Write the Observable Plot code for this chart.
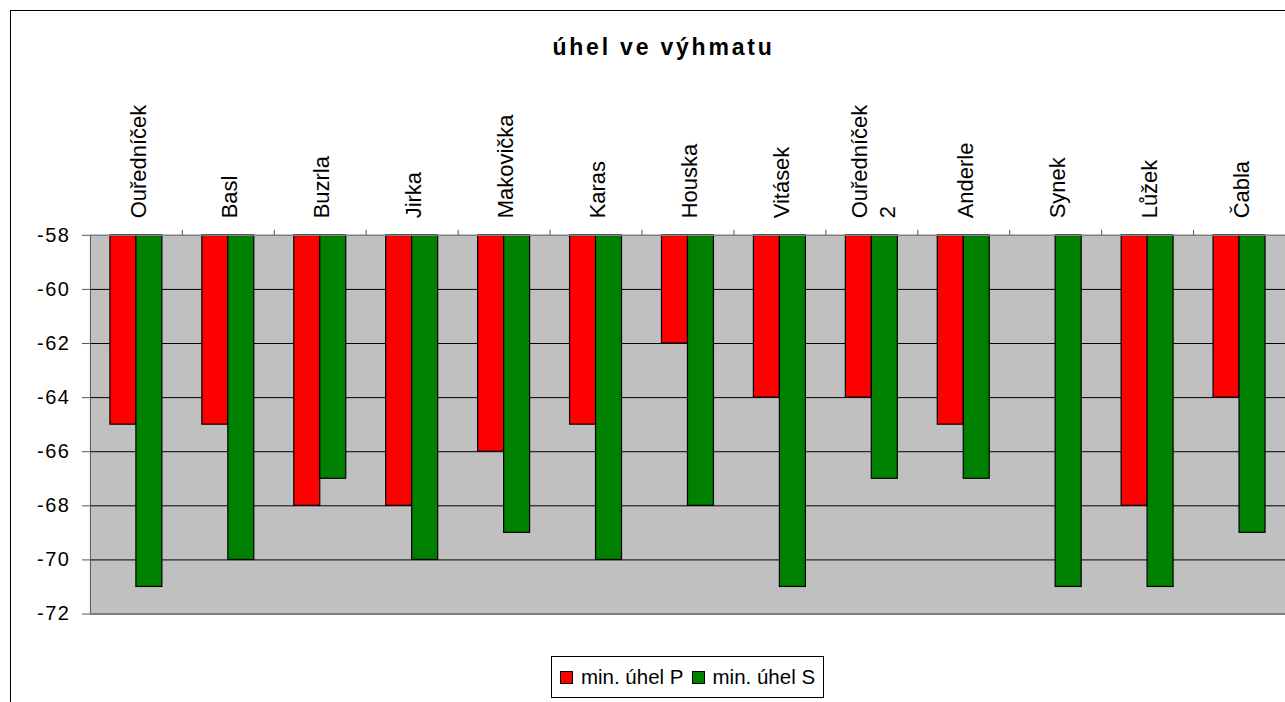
<!DOCTYPE html>
<html>
<head>
<meta charset="utf-8">
<script src="https://cdn.jsdelivr.net/npm/d3@7"></script>
<script src="https://cdn.jsdelivr.net/npm/@observablehq/plot@0.6"></script>
<style>
  html, body { margin: 0; padding: 0; background: #fff; }
  body { position: relative; width: 1285px; height: 702px; overflow: hidden; font-family: Arial, "Liberation Sans", sans-serif; }
  #border { position: absolute; left: 10px; top: 10px; width: 1400px; height: 800px; border: 1px solid #000; box-sizing: border-box; }
  #title { position: absolute; left: 0; width: 1327px; top: 34px; text-align: center; font-size: 23px; font-weight: bold; letter-spacing: 2.8px; color: #000; }
  #chart { position: absolute; left: 0; top: 0; }
  #legend { position: absolute; left: 551px; top: 656px; width: 273px; height: 42px; border: 1px solid #000; box-sizing: border-box; display: flex; align-items: center; justify-content: center; font-size: 20.5px; color: #000; background: #fff; }
  .sw { display: inline-block; width: 11px; height: 11px; border: 1px solid #000; margin: 0 8px 0 0; }
  .item { display: flex; align-items: center; margin: 0 4px; }
</style>
</head>
<body>
<div id="border"></div>
<div id="title">úhel ve výhmatu</div>
<div id="chart"></div>
<div id="legend"></div>
<script>
const categories = ["Ouředníček", "Basl", "Buzrla", "Jirka", "Makovička", "Karas", "Houska", "Vitásek", "Ouředníček 2", "Anderle", "Synek", "Lůžek", "Čabla"];
const minUhelP = [-65, -65, -68, -68, -66, -65, -62, -64, -64, -65, null, -68, -64];
const minUhelS = [-71, -70, -67, -70, -69, -70, -68, -71, -67, -67, -71, -71, -69];
const yTicks = [-58, -60, -62, -64, -66, -68, -70, -72];
const seriesNames = ["min. úhel P", "min. úhel S"];
const seriesColors = ["#FF0000", "#008000"];

const rows = categories.map((c, i) => ({name: c, P: minUhelP[i], S: minUhelS[i]}));
const base = d3.max(yTicks);
const bottom = d3.min(yTicks);

const chart = Plot.plot({
  width: 1286,
  height: 640,
  marginLeft: 90,
  marginRight: 0,
  marginTop: 235,
  marginBottom: 26,
  style: {fontFamily: "Arial, 'Liberation Sans', sans-serif", fontSize: "20px", color: "#000", background: "transparent"},
  x: {domain: categories, padding: 0},
  y: {domain: [bottom, base]},
  marks: [
    Plot.frame({fill: "#C0C0C0"}),
    Plot.ruleY(yTicks.filter(t => t !== base && t !== bottom), {stroke: "#000", strokeWidth: 1}),
    Plot.ruleY([bottom], {stroke: "#808080", strokeWidth: 2}),
    Plot.barY(rows.filter(d => d.P != null), {x: "name", y1: () => base, y2: "P", fill: seriesColors[0], stroke: "#000", strokeWidth: 1.2, insetLeft: 20, insetRight: 46}),
    Plot.barY(rows, {x: "name", y1: () => base, y2: "S", fill: seriesColors[1], stroke: "#000", strokeWidth: 1.2, insetLeft: 46, insetRight: 20}),
    Plot.ruleY([base], {stroke: "#808080", strokeWidth: 1.5}),
    Plot.ruleX([categories[0]], {x: d => d, dx: -46, y1: bottom, y2: base, stroke: "#555"}),
    Plot.ruleX(categories.slice(1), {x: d => d, dx: -46, y1: base, y2: base, insetTop: -5, stroke: "#555"}),
    Plot.axisY({ticks: yTicks, tickSize: 8, tickPadding: 12, fontSize: 20, tickFormat: d => String(d), stroke: "#555", label: null}),
    Plot.axisX({anchor: "top", tickSize: 0, tickRotate: -90, tickPadding: 17, fontSize: 22, lineHeight: 1.3, label: null, tickFormat: d => d.replace(" 2", "\n2")})
  ]
});
chart.querySelectorAll('g[aria-label="y-axis tick label"] text').forEach(t => t.style.letterSpacing = "1.5px");
document.getElementById("chart").appendChild(chart);

const legend = document.getElementById("legend");
seriesNames.forEach((n, i) => {
  const it = document.createElement("span");
  it.className = "item";
  const sw = document.createElement("span");
  sw.className = "sw";
  sw.style.background = seriesColors[i];
  it.appendChild(sw);
  it.appendChild(document.createTextNode(n));
  legend.appendChild(it);
});
</script>
</body>
</html>
